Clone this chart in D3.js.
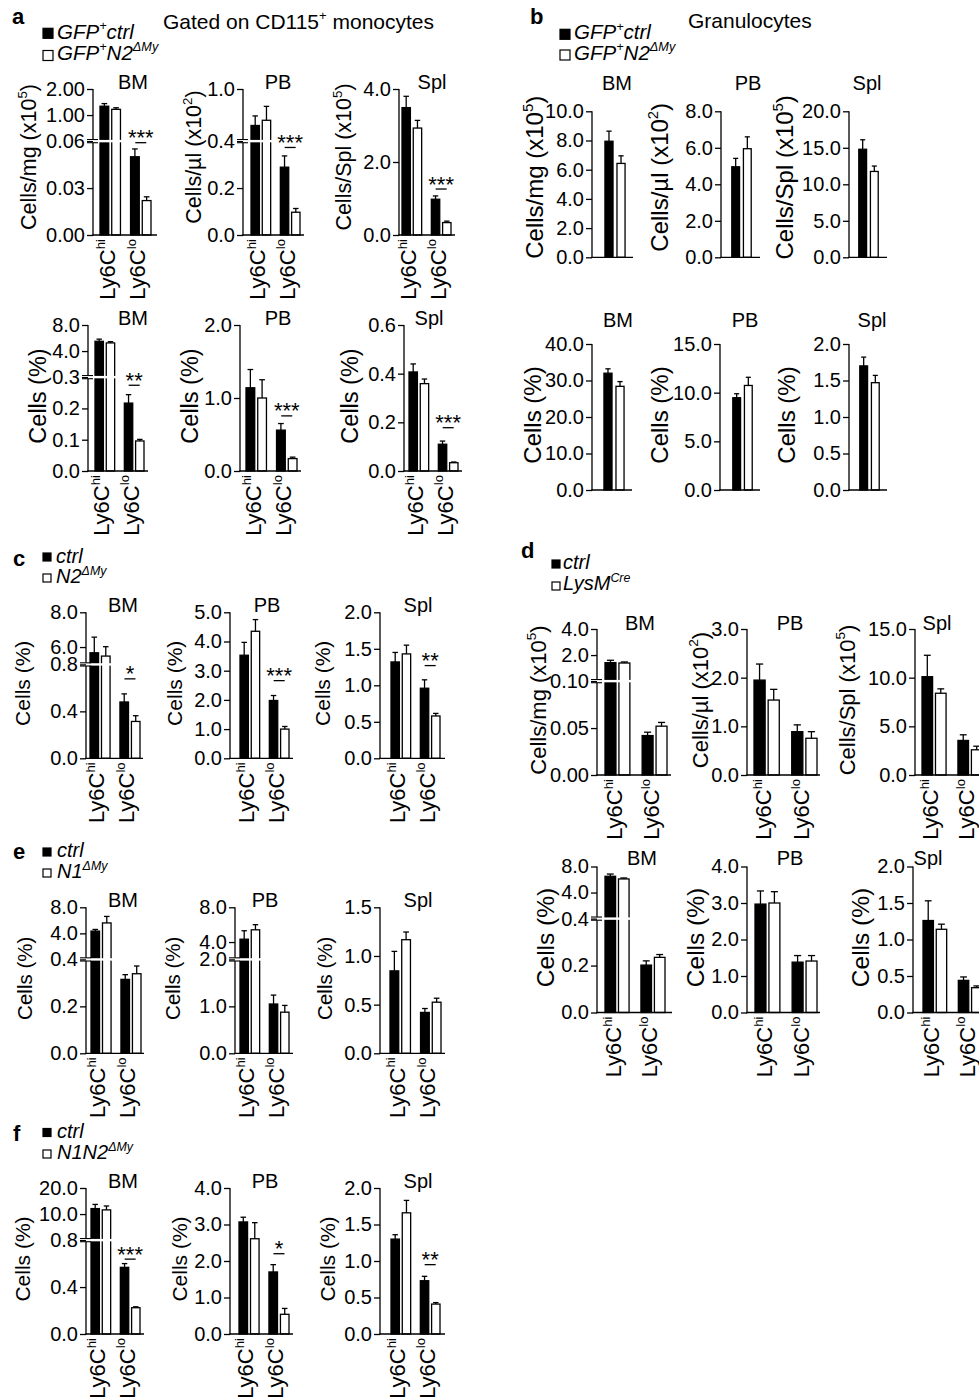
<!DOCTYPE html>
<html>
<head>
<meta charset="utf-8">
<script src="https://cdn.jsdelivr.net/npm/d3@7/dist/d3.min.js"></script>
<style>
  html, body { margin: 0; padding: 0; background: #fff; }
  svg { display: block; }
</style>
</head>
<body>
<svg id="fig" width="979" height="1398"></svg>
<script>
// ======================= DATA =======================
const subsets = ["hi", "lo"];
const groups = ["ctrl", "mut"];
const tissues = ["BM", "PB", "Spl"];
const xLabels = ["Ly6C^{hi}", "Ly6C^{lo}"];
const yLabCount = ["Cells/mg (x10^{5})", "Cells/µl (x10^{2})", "Cells/Spl (x10^{5})"];
const yLabPct = ["Cells (%)", "Cells (%)", "Cells (%)"];

// a (top) — CD115+ monocyte numbers; per tissue [Ly6Chi, Ly6Clo]
const aTopCtrl    = [[1.34, 0.050], [0.58, 0.289], [3.49, 0.98]];
const aTopCtrlSem = [[0.10, 0.005], [0.11, 0.048], [0.31, 0.09]];
const aTopMut     = [[1.22, 0.022], [0.64, 0.097], [2.93, 0.34]];
const aTopMutSem  = [[0.06, 0.0024], [0.16, 0.016], [0.21, 0.04]];
const aTopTicks   = [[0, 0.03, 0.06, 1, 2], [0, 0.2, 0.4, 1.0], [0, 2, 4]];
const aTopDomain  = [[0, 0.06, 0, 2], [0, 0.4, 0.4, 1.0], [0, 4]];
const aTopStars   = ["***", "***", "***"];
const aTopStarAt  = [0.059, 0.373, 1.26];

// a (bottom) — percentages
const aBotCtrl    = [[5.5, 0.217], [1.14, 0.56], [0.407, 0.110]];
const aBotCtrlSem = [[0.33, 0.027], [0.25, 0.09], [0.033, 0.013]];
const aBotMut     = [[5.25, 0.096], [1.0, 0.17], [0.359, 0.034]];
const aBotMutSem  = [[0.19, 0.005], [0.25, 0.02], [0.019, 0.003]];
const aBotTicks   = [[0, 0.1, 0.2, 0.3, 4, 8], [0, 1, 2], [0, 0.2, 0.4, 0.6]];
const aBotDomain  = [[0, 0.3, 0, 8], [0, 2], [0, 0.6]];
const aBotStars   = ["**", "***", "***"];
const aBotStarAt  = [0.274, 0.755, 0.178];

// b (top) — granulocyte numbers
const bTopCtrl    = [7.95, 4.96, 14.8];
const bTopCtrlSem = [0.69, 0.46, 1.3];
const bTopMut     = [6.43, 5.95, 11.76];
const bTopMutSem  = [0.52, 0.65, 0.74];
const bTopTicks   = [[0, 2, 4, 6, 8, 10], [0, 2, 4, 6, 8], [0, 5, 10, 15, 20]];
const bTopDomain  = [[0, 10], [0, 8], [0, 20]];

// b (bottom) — granulocyte percentages
const bBotCtrl    = [32.0, 9.48, 1.70];
const bBotCtrlSem = [1.2, 0.41, 0.12];
const bBotMut     = [28.4, 10.74, 1.47];
const bBotMutSem  = [1.3, 0.84, 0.10];
const bBotTicks   = [[0, 10, 20, 30, 40], [0, 5, 10, 15], [0, 0.5, 1, 1.5, 2]];
const bBotDomain  = [[0, 40], [0, 15], [0, 2]];

// c — ctrl vs N2ΔMy (%)
const cCtrl    = [[5.67, 0.48], [3.53, 1.98], [1.32, 0.96]];
const cCtrlSem = [[0.9, 0.069], [0.44, 0.17], [0.13, 0.115]];
const cMut     = [[5.48, 0.314], [4.35, 1.0], [1.43, 0.58]];
const cMutSem  = [[0.54, 0.049], [0.40, 0.09], [0.12, 0.035]];
const cTicks   = [[0, 0.4, 0.8, 6, 8], [0, 1, 2, 3, 4, 5], [0, 0.5, 1, 1.5, 2]];
const cDomain  = [[0, 0.8, 5, 8], [0, 5], [0, 2]];
const cStars   = ["*", "***", "**"];
const cStarAt  = [0.677, 2.66, 1.27];

// d (top) — ctrl vs LysMCre numbers
const dTopCtrl    = [[1.42, 0.042], [1.95, 0.89], [10.1, 3.55]];
const dTopCtrlSem = [[0.18, 0.0036], [0.33, 0.14], [2.2, 0.58]];
const dTopMut     = [[1.39, 0.052], [1.54, 0.755], [8.4, 2.59]];
const dTopMutSem  = [[0.08, 0.004], [0.22, 0.135], [0.45, 0.37]];
const dTopTicks   = [[0, 0.05, 0.10, 2, 4], [0, 1, 2, 3], [0, 5, 10, 15]];
const dTopDomain  = [[0, 0.1, 0, 4], [0, 3], [0, 15]];

// d (bottom) — percentages
const dBotCtrl    = [[6.5, 0.202], [2.97, 1.38], [1.26, 0.44]];
const dBotCtrlSem = [[0.34, 0.018], [0.36, 0.18], [0.27, 0.047]];
const dBotMut     = [[6.09, 0.235], [3.0, 1.41], [1.14, 0.34]];
const dBotMutSem  = [[0.15, 0.012], [0.31, 0.15], [0.07, 0.024]];
const dBotTicks   = [[0, 0.2, 0.4, 4, 8], [0, 1, 2, 3, 4], [0, 0.5, 1, 1.5, 2]];
const dBotDomain  = [[0, 0.4, 0, 8], [0, 4], [0, 2]];

// e — ctrl vs N1ΔMy (%)
const eCtrl    = [[4.35, 0.315], [4.33, 1.05], [0.847, 0.42]];
const eCtrlSem = [[0.25, 0.02], [0.97, 0.19], [0.20, 0.04]];
const eMut     = [[5.6, 0.339], [5.41, 0.876], [1.167, 0.525]];
const eMutSem  = [[1.0, 0.033], [0.59, 0.144], [0.079, 0.041]];
const eTicks   = [[0, 0.2, 0.4, 4, 8], [0, 1, 2, 4, 8], [0, 0.5, 1, 1.5]];
const eDomain  = [[0, 0.4, 0, 8], [0, 2, 2, 8], [0, 1.5]];

// f — ctrl vs N1N2ΔMy (%)
const fCtrl    = [[12.1, 0.568], [3.07, 1.70], [1.30, 0.73]];
const fCtrlSem = [[1.6, 0.032], [0.13, 0.20], [0.06, 0.06]];
const fMut     = [[11.6, 0.224], [2.61, 0.54], [1.66, 0.41]];
const fMutSem  = [[1.5, 0.008], [0.44, 0.16], [0.17, 0.02]];
const fTicks   = [[0, 0.4, 0.8, 10, 20], [0, 1, 2, 3, 4], [0, 0.5, 1, 1.5, 2]];
const fDomain  = [[0, 0.8, 0, 20], [0, 4], [0, 2]];
const fStars   = ["***", "*", "**"];
const fStarAt  = [0.638, 2.2, 0.95];

// legends
const legendA = ["GFP^{+}ctrl", "GFP^{+}N2^{ΔMy}"];
const legendC = ["ctrl", "N2^{ΔMy}"];
const legendD = ["ctrl", "LysM^{Cre}"];
const legendE = ["ctrl", "N1^{ΔMy}"];
const legendF = ["ctrl", "N1N2^{ΔMy}"];
const headerA = "Gated on CD115^{+} monocytes";
const headerB = "Granulocytes";

// ======================= LAYOUT =======================
const FONT = "'Liberation Sans', Arial, Helvetica, sans-serif";
const AXIS_H = 146, BREAK_FRAC = 0.643, SW = 1.3, TICK_FS = 20, TITLE_FS = 20, XLAB_FS = 22, STAR_FS = 22;

const rows = [
  { ctrl: aTopCtrl, ctrlSem: aTopCtrlSem, mut: aTopMut, mutSem: aTopMutSem, ticks: aTopTicks, dom: aTopDomain,
    fmt: [".2f", ".1f", ".1f"], ylab: yLabCount, stars: aTopStars, starAt: aTopStarAt, xlab: true, innerPad: 0.255,
    y0: 235, titleY: 89, ylabFs: 21.5, ylabDy: -3,
    ax: [93, 243, 399], band: [[100, 151], [251, 300], [402, 451]], xEnd: [157, 304, 455],
    ylabX: [28, 193, 343], titleX: [133, 278, 432] },
  { ctrl: aBotCtrl, ctrlSem: aBotCtrlSem, mut: aBotMut, mutSem: aBotMutSem, ticks: aBotTicks, dom: aBotDomain,
    fmt: [".1f", ".1f", ".1f"], ylab: yLabPct, stars: aBotStars, starAt: aBotStarAt, xlab: true, innerPad: 0.255,
    y0: 471, titleY: 325, ylabFs: 23.5, ylabDy: 0,
    ax: [88, 240, 404], band: [[95, 144], [246, 297], [409, 458]], xEnd: [148, 301, 462],
    ylabX: [38, 190, 350], titleX: [133, 278, 429] },
  { ctrl: bTopCtrl, ctrlSem: bTopCtrlSem, mut: bTopMut, mutSem: bTopMutSem, ticks: bTopTicks, dom: bTopDomain,
    fmt: [".1f", ".1f", ".1f"], ylab: yLabCount, xlab: false,
    y0: 257.3, titleY: 90, ylabFs: 24, ylabDy: -5,
    ax: [592, 721, 849], band: [[600, 630], [727, 756], [854, 883]], xEnd: [633, 760, 887],
    ylabX: [535, 660, 785], titleX: [617, 748, 867] },
  { ctrl: bBotCtrl, ctrlSem: bBotCtrlSem, mut: bBotMut, mutSem: bBotMutSem, ticks: bBotTicks, dom: bBotDomain,
    fmt: [".1f", ".1f", ".1f"], ylab: yLabPct, xlab: false,
    y0: 490, titleY: 327, ylabFs: 24, ylabDy: 0,
    ax: [592, 720, 849], band: [[599, 629], [728, 757], [855, 884]], xEnd: [632, 760, 887],
    ylabX: [533, 660, 787], titleX: [618, 745, 872] },
  { ctrl: cCtrl, ctrlSem: cCtrlSem, mut: cMut, mutSem: cMutSem, ticks: cTicks, dom: cDomain,
    fmt: [".1f", ".1f", ".1f"], ylab: yLabPct, stars: cStars, starAt: cStarAt, xlab: true, innerPad: 0.255,
    y0: 758.3, titleY: 612, ylabFs: 21, ylabDy: 0,
    ax: [86, 230, 380], band: [[90, 140], [240, 289], [391, 440]], xEnd: [143, 293, 445],
    ylabX: [23, 175, 323], titleX: [123, 267, 418] },
  { ctrl: dTopCtrl, ctrlSem: dTopCtrlSem, mut: dTopMut, mutSem: dTopMutSem, ticks: dTopTicks, dom: dTopDomain,
    fmt: [[".2f", ".1f"], ".1f", ".1f"], ylab: yLabCount, xlab: true, innerPad: 0.214,
    y0: 775, titleY: 630, ylabFs: 22, ylabDy: 0,
    ax: [597, 747, 915], band: [[605, 667], [754, 817], [922, 982]], xEnd: [671, 820, 995],
    ylabX: [538, 700, 847], titleX: [640, 790, 937] },
  { ctrl: dBotCtrl, ctrlSem: dBotCtrlSem, mut: dBotMut, mutSem: dBotMutSem, ticks: dBotTicks, dom: dBotDomain,
    fmt: [".1f", ".1f", ".1f"], ylab: yLabPct, xlab: true, innerPad: 0.214,
    y0: 1012.5, titleY: 865, ylabFs: 24.5, ylabDy: 0,
    ax: [597, 747, 913], band: [[605, 665], [755, 817], [923, 982]], xEnd: [672, 820, 995],
    ylabX: [545, 695, 860], titleX: [642, 790, 928] },
  { ctrl: eCtrl, ctrlSem: eCtrlSem, mut: eMut, mutSem: eMutSem, ticks: eTicks, dom: eDomain,
    fmt: [".1f", ".1f", ".1f"], ylab: yLabPct, xlab: true, innerPad: 0.255,
    y0: 1053.3, titleY: 907, ylabFs: 20.5, ylabDy: 0,
    ax: [86, 235, 380], band: [[91, 141], [240, 289], [390, 441]], xEnd: [144, 293, 445],
    ylabX: [25, 173, 325], titleX: [123, 265, 418] },
  { ctrl: fCtrl, ctrlSem: fCtrlSem, mut: fMut, mutSem: fMutSem, ticks: fTicks, dom: fDomain,
    fmt: [".1f", ".1f", ".1f"], ylab: yLabPct, stars: fStars, starAt: fStarAt, xlab: true, innerPad: 0.255,
    y0: 1334, titleY: 1188, ylabFs: 21, ylabDy: 0,
    ax: [86, 230, 380], band: [[91, 140], [239, 289], [391, 440]], xEnd: [144, 293, 445],
    ylabX: [23, 180, 328], titleX: [123, 265, 418] }
];

const legends = [
  { letter: "a", lx: 12, ly: 24, items: legendA, sx: 43, sy: [28.3, 50.5], sq: 10, tx: 57, ty: [39, 60], fs: 20.5 },
  { letter: "b", lx: 530, ly: 24, items: legendA, sx: 560, sy: [29.3, 50], sq: 10, tx: 574, ty: [39.3, 60], fs: 20.5 },
  { letter: "c", lx: 13, ly: 566, items: legendC, sx: 43, sy: [553, 574], sq: 8, tx: 56, ty: [563, 583], fs: 20 },
  { letter: "d", lx: 521, ly: 558, items: legendD, sx: 552, sy: [560, 582], sq: 8, tx: 563, ty: [569, 590], fs: 20 },
  { letter: "e", lx: 13, ly: 859, items: legendE, sx: 43, sy: [848, 869], sq: 8, tx: 57, ty: [856.5, 878], fs: 20 },
  { letter: "f", lx: 13, ly: 1141, items: legendF, sx: 43, sy: [1128.5, 1150], sq: 8, tx: 57, ty: [1138, 1159], fs: 20 }
];

// ======================= DRAWING =======================
const svg = d3.select("#fig").attr("font-family", FONT);
svg.append("rect").attr("width", 979).attr("height", 1398).attr("fill", "#fff");

function rich(textSel, str, size, supRatio) {
  const parts = str.split(/(\^\{[^}]*\})/).filter(s => s.length);
  const sup = size * (supRatio || 0.62), shift = size * 0.42;
  let raised = false;
  parts.forEach(p => {
    if (p.startsWith("^{")) {
      textSel.append("tspan").attr("font-size", sup).attr("dy", -shift).text(p.slice(2, -1));
      raised = true;
    } else {
      const t = textSel.append("tspan").text(p);
      if (raised) { t.attr("dy", shift); raised = false; }
    }
  });
  return textSel;
}

function drawPanel(row, i) {
  const g = svg.append("g");
  const ax = row.ax[i], y0 = row.y0, h = AXIS_H, xEnd = row.xEnd[i], yTop = y0 - h;
  const dom = row.dom[i];
  const hasBreak = dom.length === 4;
  const yB = hasBreak ? y0 - h * BREAK_FRAC : null;
  const lower = d3.scaleLinear().domain([dom[0], dom[1]]).range([y0, hasBreak ? yB : yTop]);
  const upper = hasBreak ? d3.scaleLinear().domain([dom[2], dom[3]]).range([yB, yTop]) : null;
  const y = v => (!hasBreak || v <= dom[1] + 1e-9) ? lower(v) : upper(v);

  const single = typeof row.ctrl[i] === "number";
  const cats = single ? ["all"] : subsets;
  const outer = d3.scaleBand().domain(cats).range(row.band[i]).paddingInner(0.33).paddingOuter(0);
  const inner = d3.scaleBand().domain(groups).range([0, outer.bandwidth()])
    .paddingInner(single ? 0.33 : row.innerPad).paddingOuter(0);
  const bw = inner.bandwidth();

  const recs = [];
  cats.forEach((c, k) => {
    const pick = arr => single ? arr[i] : arr[i][k];
    recs.push({ cat: c, grp: "ctrl", v: pick(row.ctrl), e: pick(row.ctrlSem) });
    recs.push({ cat: c, grp: "mut", v: pick(row.mut), e: pick(row.mutSem) });
  });
  const bx = d => outer(d.cat) + inner(d.grp);

  // bars
  g.selectAll("rect.bar").data(recs).join("rect")
    .attr("class", "bar")
    .attr("x", bx).attr("width", bw)
    .attr("y", d => y(d.v)).attr("height", d => y0 - y(d.v))
    .attr("fill", d => d.grp === "ctrl" ? "#000" : "#fff")
    .attr("stroke", "#000").attr("stroke-width", SW);

  // white break gap through the bars
  if (hasBreak) {
    g.append("rect").attr("x", ax + 1).attr("y", yB - 1.2).attr("width", xEnd - ax).attr("height", 2.4).attr("fill", "#fff");
  }

  // error bars (upper only)
  const capW = bw * 0.65;
  recs.forEach(d => {
    const cx = bx(d) + bw / 2;
    g.append("line").attr("x1", cx).attr("x2", cx).attr("y1", y(d.v)).attr("y2", y(d.v + d.e))
      .attr("stroke", "#000").attr("stroke-width", SW);
    g.append("line").attr("x1", cx - capW / 2).attr("x2", cx + capW / 2).attr("y1", y(d.v + d.e)).attr("y2", y(d.v + d.e))
      .attr("stroke", "#000").attr("stroke-width", SW);
  });

  // y axis with ticks
  const fm = row.fmt[i];
  const fl = d3.format(Array.isArray(fm) ? fm[0] : fm), fu = d3.format(Array.isArray(fm) ? fm[1] : fm);
  const lowT = row.ticks[i].filter(t => !hasBreak || t <= dom[1] + 1e-9);
  const upT = hasBreak ? row.ticks[i].filter(t => t > dom[1] + 1e-9) : [];
  const styleAxis = sel => {
    sel.select(".domain").remove();
    sel.attr("font-family", FONT).attr("font-size", TICK_FS);
    sel.selectAll("line").attr("stroke", "#000").attr("stroke-width", SW);
    sel.selectAll("text").attr("fill", "#000");
  };
  g.append("g").attr("transform", `translate(${ax},0)`)
    .call(d3.axisLeft(lower).tickValues(lowT).tickFormat(fl).tickSize(6).tickPadding(2)).call(styleAxis);
  if (hasBreak) {
    g.append("g").attr("transform", `translate(${ax},0)`)
      .call(d3.axisLeft(upper).tickValues(upT).tickFormat(fu).tickSize(6).tickPadding(2)).call(styleAxis);
    g.append("line").attr("x1", ax).attr("x2", ax).attr("y1", y0 + SW / 2).attr("y2", yB + 1.6)
      .attr("stroke", "#000").attr("stroke-width", SW);
    g.append("line").attr("x1", ax).attr("x2", ax).attr("y1", yB - 1.6).attr("y2", yTop)
      .attr("stroke", "#000").attr("stroke-width", SW);
    [-1.6, 1.6].forEach(o => g.append("line").attr("x1", ax - 6).attr("x2", ax + 5)
      .attr("y1", yB + o).attr("y2", yB + o).attr("stroke", "#000").attr("stroke-width", 1.1));
  } else {
    g.append("line").attr("x1", ax).attr("x2", ax).attr("y1", y0 + SW / 2).attr("y2", yTop)
      .attr("stroke", "#000").attr("stroke-width", SW);
  }
  // x axis
  g.append("line").attr("x1", ax - SW / 2).attr("x2", xEnd).attr("y1", y0).attr("y2", y0)
    .attr("stroke", "#000").attr("stroke-width", SW);

  // category labels
  if (row.xlab) {
    cats.forEach((c, k) => {
      const cx = outer(c) + outer.bandwidth() / 2;
      const t = g.append("text")
        .attr("transform", `translate(${cx},${y0 + 4}) rotate(-90)`)
        .attr("text-anchor", "end").attr("dy", "0.2em").attr("font-size", XLAB_FS);
      rich(t, xLabels[k], XLAB_FS, 0.6);
    });
  }

  // significance
  if (row.stars && row.stars[i]) {
    const cx = outer("lo") + outer.bandwidth() / 2;
    const ly = y(row.starAt[i]);
    g.append("line").attr("x1", cx - 5.5).attr("x2", cx + 5.5).attr("y1", ly).attr("y2", ly)
      .attr("stroke", "#000").attr("stroke-width", SW);
    g.append("text").attr("x", cx).attr("y", ly + 2.5).attr("text-anchor", "middle")
      .attr("font-size", STAR_FS).text(row.stars[i]);
  }

  // panel title
  g.append("text").attr("x", row.titleX[i]).attr("y", row.titleY).attr("text-anchor", "middle")
    .attr("font-size", TITLE_FS).text(tissues[i]);

  // y label
  const yl = g.append("text")
    .attr("transform", `translate(${row.ylabX[i]},${y0 - h / 2 - 2 + row.ylabDy}) rotate(-90)`)
    .attr("text-anchor", "middle").attr("dy", "0.35em").attr("font-size", row.ylabFs);
  rich(yl, row.ylab[i], row.ylabFs);
}

rows.forEach(row => tissues.forEach((t, i) => drawPanel(row, i)));

// legends and panel letters
legends.forEach(L => {
  svg.append("text").attr("x", L.lx).attr("y", L.ly).attr("font-size", 22).attr("font-weight", "bold").text(L.letter);
  L.items.forEach((it, k) => {
    svg.append("rect").attr("x", L.sx).attr("y", L.sy[k]).attr("width", L.sq).attr("height", L.sq)
      .attr("fill", k === 0 ? "#000" : "#fff").attr("stroke", "#000").attr("stroke-width", 1.2);
    const t = svg.append("text").attr("x", L.tx).attr("y", L.ty[k]).attr("font-size", L.fs).attr("font-style", "italic");
    rich(t, it, L.fs);
  });
});

// headers
rich(svg.append("text").attr("x", 163).attr("y", 29.3).attr("font-size", 21), headerA, 21);
svg.append("text").attr("x", 688).attr("y", 28.3).attr("font-size", 21).text(headerB);
</script>
</body>
</html>
